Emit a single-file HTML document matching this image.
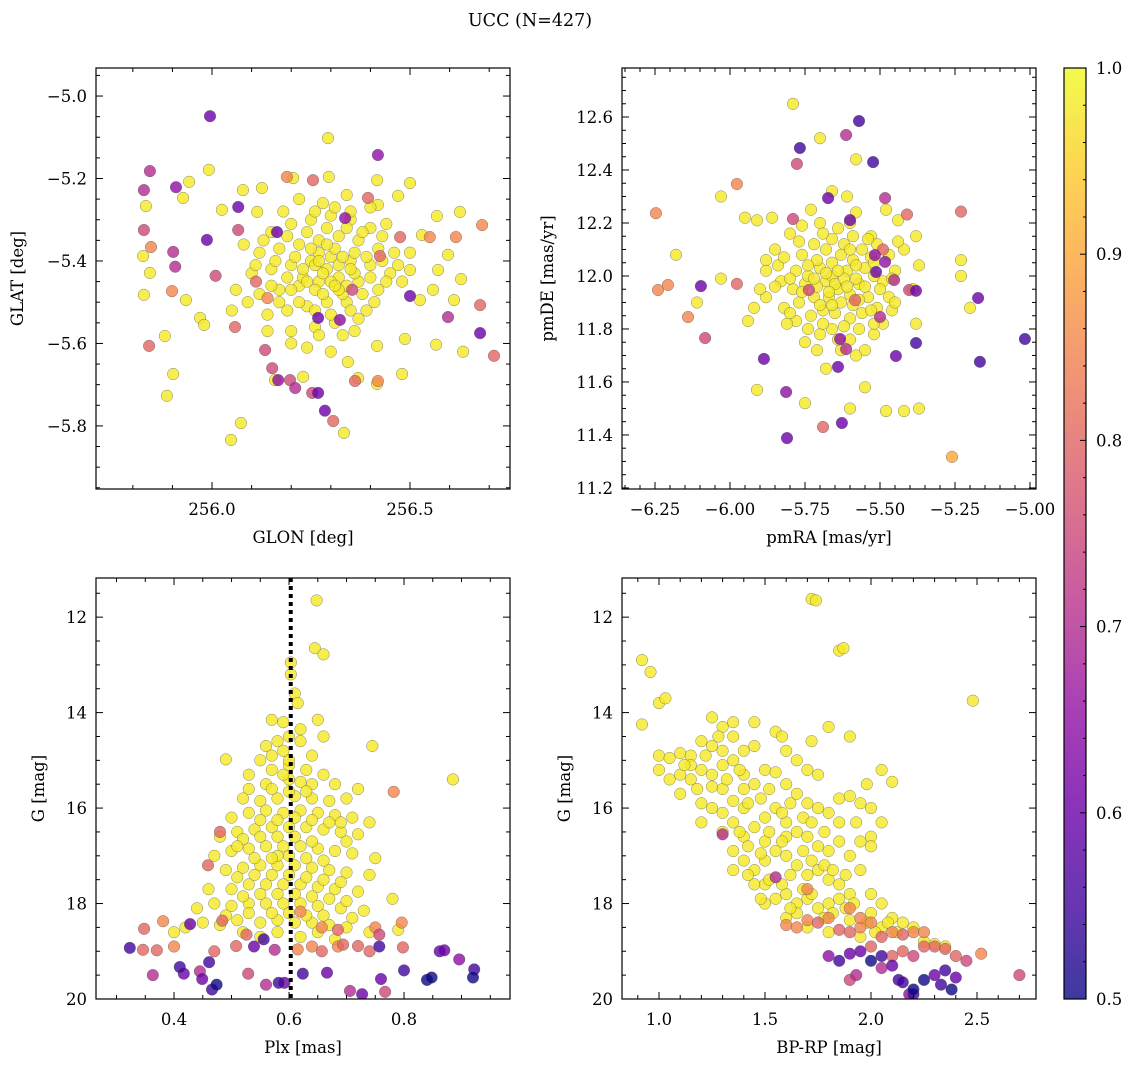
<!DOCTYPE html>
<html><head><meta charset="utf-8">
<style>
html,body{margin:0;padding:0;background:#fff;}
svg{display:block;font-family:"DejaVu Serif","Liberation Serif",serif;}
</style></head>
<body>
<svg id="fig" width="1136" height="1067" viewBox="0 0 1136 1067" xmlns="http://www.w3.org/2000/svg">
<defs>
<linearGradient id="plasma" x1="0" y1="1" x2="0" y2="0">
<stop offset="0" stop-color="#0d0887"/><stop offset="0.1" stop-color="#41049d"/><stop offset="0.2" stop-color="#6a00a8"/><stop offset="0.3" stop-color="#8f0da4"/><stop offset="0.4" stop-color="#b12a90"/><stop offset="0.5" stop-color="#cc4778"/><stop offset="0.6" stop-color="#e16462"/><stop offset="0.7" stop-color="#f2844b"/><stop offset="0.8" stop-color="#fca636"/><stop offset="0.9" stop-color="#fcce25"/><stop offset="1" stop-color="#f0f921"/>
</linearGradient>
</defs>
<text x="530" y="26" font-size="17.5" text-anchor="middle">UCC (N=427)</text>
</svg>
<script>
// ---- Panel 1: GLON vs GLAT ----
const p1Core = [[256.293,-5.102],[255.833,-5.267],[255.826,-5.388],[255.843,-5.429],[255.828,-5.482],[255.881,-5.582],[255.902,-5.674],[255.886,-5.727],[255.992,-5.179],[255.942,-5.208],[255.927,-5.247],[256.025,-5.276],[255.934,-5.495],[255.97,-5.538],[255.98,-5.555],[256.048,-5.834],[256.073,-5.793],[256.159,-5.689],[256.23,-5.681],[256.333,-5.817],[256.343,-5.645],[256.369,-5.684],[256.417,-5.698],[256.48,-5.674],[256.417,-5.606],[256.487,-5.589],[256.566,-5.603],[256.634,-5.62],[256.611,-5.495],[256.629,-5.444],[256.558,-5.47],[256.596,-5.385],[256.571,-5.422],[256.5,-5.422],[256.53,-5.337],[256.568,-5.291],[256.626,-5.281],[256.417,-5.204],[256.5,-5.211],[256.47,-5.242],[256.419,-5.264],[256.205,-5.199],[256.295,-5.196],[256.126,-5.223],[256.078,-5.228],[256.114,-5.281],[256.525,-5.495],
[256.15,-5.33],[256.2,-5.31],[256.25,-5.30],[256.3,-5.29],[256.35,-5.30],[256.4,-5.32],[256.12,-5.38],[256.17,-5.37],[256.22,-5.36],[256.27,-5.35],[256.32,-5.34],[256.37,-5.35],[256.42,-5.37],[256.46,-5.38],[256.1,-5.43],[256.15,-5.42],[256.2,-5.41],[256.25,-5.40],[256.3,-5.39],[256.35,-5.40],[256.4,-5.41],[256.45,-5.43],[256.12,-5.48],[256.17,-5.47],[256.22,-5.46],[256.27,-5.45],[256.32,-5.44],[256.37,-5.45],[256.42,-5.47],[256.14,-5.53],[256.19,-5.52],[256.24,-5.51],[256.29,-5.50],[256.34,-5.50],[256.39,-5.52],[256.2,-5.57],[256.26,-5.56],[256.31,-5.55],[256.36,-5.57],[256.24,-5.61],[256.3,-5.62],[256.08,-5.36],[256.06,-5.47],[256.05,-5.52],[256.34,-5.24],[256.28,-5.26],[256.22,-5.25],[256.18,-5.28],[256.4,-5.27],[256.44,-5.31],[256.48,-5.45],[256.29,-5.42],[256.26,-5.47],[256.33,-5.48],[256.23,-5.44],[256.31,-5.37],[256.36,-5.43],[256.19,-5.44],[256.27,-5.38]];
const p1Dense = [[256.28,-5.43],[256.3,-5.45],[256.32,-5.41],[256.34,-5.46],[256.26,-5.41],[256.24,-5.45],[256.28,-5.48],[256.32,-5.47],[256.36,-5.38],[256.33,-5.39],[256.29,-5.36],[256.25,-5.37],[256.21,-5.39],[256.2,-5.47],[256.22,-5.5],[256.26,-5.52],[256.3,-5.53],[256.35,-5.52],[256.38,-5.48],[256.4,-5.44],[256.39,-5.39],[256.38,-5.33],[256.34,-5.32],[256.29,-5.32],[256.24,-5.33],[256.19,-5.34],[256.16,-5.4],[256.15,-5.46],[256.17,-5.5],[256.27,-5.58],[256.33,-5.58],[256.41,-5.5],[256.43,-5.4],[256.43,-5.34],[256.13,-5.35],[256.09,-5.5],[256.2,-5.6],[256.35,-5.28],[256.31,-5.27],[256.26,-5.28],[256.44,-5.45],[256.47,-5.41],[256.5,-5.38],[256.11,-5.41],[256.14,-5.57],[256.37,-5.54],[256.31,-5.46],[256.27,-5.4],[256.23,-5.42],[256.35,-5.42]];
const p1Other = [[255.995,-5.049,0.6],[255.843,-5.182,0.7],[255.828,-5.228,0.7],[255.909,-5.221,0.65],[255.828,-5.325,0.75],[255.846,-5.366,0.85],[255.902,-5.378,0.7],[255.907,-5.414,0.7],[255.899,-5.473,0.85],[255.841,-5.606,0.8],[256.066,-5.269,0.6],[255.987,-5.349,0.6],[256.009,-5.436,0.75],[256.066,-5.325,0.75],[256.058,-5.56,0.8],[256.134,-5.616,0.75],[256.152,-5.66,0.75],[256.167,-5.689,0.65],[256.197,-5.689,0.75],[256.21,-5.708,0.7],[256.253,-5.72,0.75],[256.268,-5.72,0.6],[256.285,-5.763,0.6],[256.306,-5.788,0.8],[256.361,-5.691,0.8],[256.268,-5.538,0.6],[256.323,-5.543,0.65],[256.354,-5.47,0.75],[256.424,-5.388,0.8],[256.336,-5.296,0.65],[256.419,-5.143,0.65],[256.394,-5.247,0.8],[256.255,-5.204,0.8],[256.189,-5.196,0.85],[256.164,-5.33,0.6],[256.475,-5.342,0.8],[256.5,-5.485,0.6],[256.596,-5.536,0.7],[256.677,-5.575,0.6],[256.677,-5.507,0.8],[256.712,-5.63,0.8],[256.419,-5.691,0.85],[256.111,-5.45,0.8],[256.14,-5.49,0.85],[256.55,-5.342,0.85],[256.616,-5.342,0.85],[256.682,-5.313,0.85]];
const p1XTicks = [256.0,256.5];
const p1YTicks = [-5.8,-5.6,-5.4,-5.2,-5.0];

// ---- Panel 2: pmRA vs pmDE ----
const p2Core = [[-5.79,12.65],[-5.70,12.52],[-5.58,12.44],[-5.66,12.32],[-5.61,12.30],[-5.73,12.25],[-6.03,12.30],[-5.95,12.22],[-5.91,12.21],[-5.86,12.22],[-6.18,12.08],[-6.03,11.99],[-6.11,11.90],[-5.92,11.88],[-5.94,11.83],[-5.91,11.57],[-5.75,11.52],[-5.68,11.65],[-5.60,11.50],[-5.55,11.58],[-5.48,11.49],[-5.42,11.49],[-5.37,11.50],[-5.38,11.82],[-5.39,11.95],[-5.37,12.04],[-5.42,12.10],[-5.38,12.15],[-5.44,12.21],[-5.48,12.25],[-5.23,12.06],[-5.23,12.00],[-5.20,11.88],[-5.53,12.15],[-5.60,12.20],[-5.80,12.16],[-5.85,12.10],[-5.88,12.02],[-5.83,11.98],[-5.88,11.92],[-5.82,11.88],[-5.78,11.83],[-5.74,11.80],[-5.70,11.78],[-5.66,11.80],[-5.60,11.76],[-5.55,11.72],[-5.52,11.78],[-5.49,11.82],[-5.51,11.88],[-5.47,11.92],[-5.49,11.98],[-5.45,12.02],[-5.47,12.08],[-5.51,12.12],[-5.56,12.10],[-5.62,12.12],[-5.66,12.14],[-5.72,12.12],[-5.76,12.08],[-5.78,12.02],[-5.75,11.97],[-5.72,11.92],[-5.69,11.87],[-5.65,11.86],[-5.60,11.84],[-5.56,11.86],[-5.54,11.92],[-5.57,11.97],[-5.61,12.02],[-5.66,12.05],[-5.70,12.03],[-5.68,11.98],[-5.64,11.95],[-5.60,11.93],[-5.63,11.90],[-5.67,11.92],[-5.71,11.96],[-5.74,12.00],[-5.59,12.06],[-5.55,12.03],[-5.52,12.00],[-5.58,11.99],[-5.66,12.00],[-5.70,11.89],[-5.77,11.90],[-5.79,11.95],[-5.63,11.72],[-5.57,11.80],[-5.84,12.04],[-5.64,12.18],[-5.70,12.20],[-5.75,11.75],[-5.81,11.82]];
const p2Dense = [[-5.65,11.97],[-5.62,11.99],[-5.68,12.01],[-5.71,12.06],[-5.63,12.08],[-5.58,12.04],[-5.55,11.96],[-5.59,11.89],[-5.66,11.89],[-5.73,11.85],[-5.76,11.94],[-5.74,12.04],[-5.68,12.1],[-5.6,12.1],[-5.53,12.07],[-5.5,11.95],[-5.53,11.87],[-5.62,11.81],[-5.69,11.82],[-5.8,11.99],[-5.82,12.07],[-5.77,12.13],[-5.69,12.16],[-5.59,12.15],[-5.54,12.14],[-5.46,11.99],[-5.46,11.87],[-5.64,12.02],[-5.72,11.99],[-5.61,11.96],[-5.67,11.94],[-5.57,11.91],[-5.52,12.05],[-5.85,11.96],[-5.88,12.06],[-5.9,11.95],[-5.64,11.76],[-5.58,11.7],[-5.52,11.82],[-5.8,11.86],[-5.76,12.19],[-5.58,12.24],[-5.44,12.13],[-5.45,11.9],[-5.71,11.72]];
const p2Other = [[-6.247,12.237,0.85],[-6.24,11.947,0.85],[-6.207,11.966,0.85],[-6.14,11.845,0.85],[-6.097,11.962,0.6],[-6.083,11.766,0.75],[-5.977,12.347,0.85],[-5.977,11.97,0.8],[-5.887,11.687,0.6],[-5.813,11.562,0.65],[-5.81,11.388,0.6],[-5.777,12.423,0.75],[-5.767,12.483,0.55],[-5.79,12.215,0.75],[-5.673,12.294,0.6],[-5.69,11.43,0.8],[-5.633,11.762,0.65],[-5.64,11.657,0.6],[-5.627,11.445,0.6],[-5.613,12.532,0.7],[-5.57,12.585,0.55],[-5.523,12.43,0.55],[-5.6,12.211,0.6],[-5.483,12.294,0.7],[-5.517,12.079,0.65],[-5.483,12.053,0.65],[-5.513,12.015,0.6],[-5.583,11.909,0.8],[-5.5,11.845,0.7],[-5.613,11.724,0.7],[-5.447,11.698,0.6],[-5.38,11.747,0.55],[-5.403,11.947,0.75],[-5.41,12.232,0.8],[-5.38,11.944,0.6],[-5.23,12.243,0.8],[-5.26,11.317,0.9],[-5.173,11.917,0.6],[-5.167,11.676,0.55],[-5.017,11.762,0.55],[-5.453,11.985,0.7],[-5.737,11.947,0.75],[-5.49,12.1,0.8]];
const p2XTicks = [-6.25,-6.00,-5.75,-5.50,-5.25,-5.00];
const p2YTicks = [11.2,11.4,11.6,11.8,12.0,12.2,12.4,12.6];

// ---- Panel 3: Plx vs G ----
const p3Core = [[0.648,11.65],[0.645,12.65],[0.66,12.78],[0.603,12.95],[0.603,13.2],[0.61,13.6],[0.615,13.8],[0.59,14.2],[0.57,14.15],[0.65,14.15],[0.745,14.7],[0.885,15.4],[0.49,14.98],[0.56,14.7],[0.6,14.5],[0.62,14.6],[0.58,14.6],[0.55,15.0],[0.64,14.9],[0.53,15.3],[0.57,15.2],[0.6,15.1],[0.63,15.2],[0.66,15.3],[0.53,15.6],[0.56,15.5],[0.6,15.4],[0.64,15.5],[0.68,15.5],[0.52,15.8],[0.55,15.85],[0.58,15.8],[0.61,15.75],[0.64,15.8],[0.67,15.85],[0.7,15.8],[0.72,15.6],[0.5,16.2],[0.53,16.1],[0.56,16.05],[0.59,16.1],[0.62,16.05],[0.65,16.1],[0.68,16.15],[0.71,16.2],[0.74,16.3],[0.48,16.6],[0.51,16.5],[0.54,16.45],[0.57,16.4],[0.6,16.4],[0.63,16.4],[0.66,16.45],[0.69,16.5],[0.72,16.55],[0.47,17.0],[0.5,16.9],[0.53,16.85],[0.56,16.8],[0.59,16.8],[0.62,16.8],[0.65,16.85],[0.68,16.9],[0.71,16.95],[0.75,17.05],[0.49,17.3],[0.52,17.25],[0.55,17.2],[0.58,17.2],[0.61,17.2],[0.64,17.25],[0.67,17.3],[0.7,17.35],[0.74,17.4],[0.78,17.9],[0.46,17.7],[0.5,17.7],[0.53,17.6],[0.56,17.6],[0.59,17.6],[0.62,17.6],[0.65,17.65],[0.68,17.7],[0.72,17.75],[0.44,18.1],[0.47,18.0],[0.5,18.05],[0.53,18.0],[0.56,18.0],[0.59,18.0],[0.62,18.0],[0.65,18.05],[0.69,18.1],[0.73,18.15],[0.42,18.5],[0.45,18.4],[0.48,18.45],[0.51,18.35],[0.55,18.4],[0.58,18.35],[0.61,18.4],[0.64,18.4],[0.67,18.45],[0.7,18.5],[0.74,18.6],[0.79,18.55],[0.4,18.6],[0.6,15.0],[0.64,16.7],[0.58,17.0],[0.55,18.7],[0.62,18.7],[0.68,18.75]];
const p3Dense = [[0.59,15.3],[0.62,15.45],[0.57,15.6],[0.6,15.65],[0.63,15.65],[0.55,16.25],[0.58,16.25],[0.61,16.2],[0.64,16.25],[0.67,16.3],[0.52,16.65],[0.55,16.6],[0.58,16.6],[0.61,16.6],[0.7,16.7],[0.54,17.05],[0.57,17.05],[0.6,17.0],[0.63,17.05],[0.66,17.1],[0.51,17.45],[0.54,17.4],[0.57,17.4],[0.6,17.4],[0.63,17.45],[0.66,17.5],[0.69,17.55],[0.52,17.85],[0.55,17.8],[0.58,17.8],[0.61,17.8],[0.64,17.85],[0.67,17.9],[0.7,17.95],[0.49,18.25],[0.53,18.2],[0.57,18.2],[0.6,18.2],[0.63,18.25],[0.66,18.25],[0.71,18.3],[0.52,18.6],[0.58,18.6],[0.65,18.6],[0.59,14.8],[0.62,14.35],[0.66,14.5],[0.57,14.9],[0.51,16.8],[0.69,16.3]];
const p3Other = [[0.323,18.93,0.55],[0.346,18.97,0.8],[0.348,18.53,0.8],[0.363,19.5,0.7],[0.37,18.98,0.8],[0.381,18.37,0.85],[0.4,18.9,0.85],[0.41,19.33,0.55],[0.417,19.47,0.6],[0.428,18.43,0.6],[0.445,19.42,0.7],[0.449,19.58,0.6],[0.461,19.23,0.55],[0.466,19.8,0.55],[0.47,19.0,0.8],[0.474,19.7,0.5],[0.459,17.2,0.8],[0.484,18.36,0.8],[0.48,16.5,0.8],[0.508,18.89,0.8],[0.529,19.47,0.75],[0.526,18.65,0.8],[0.539,18.9,0.6],[0.556,18.75,0.55],[0.56,19.7,0.7],[0.575,18.97,0.7],[0.582,19.66,0.55],[0.592,19.66,0.6],[0.615,18.96,0.85],[0.624,19.47,0.55],[0.64,18.9,0.85],[0.657,19.0,0.8],[0.666,19.45,0.6],[0.685,18.9,0.85],[0.694,18.86,0.8],[0.706,19.83,0.7],[0.72,18.89,0.8],[0.727,19.9,0.6],[0.74,19.0,0.8],[0.75,18.5,0.85],[0.757,18.9,0.55],[0.757,18.65,0.75],[0.76,19.58,0.6],[0.767,19.85,0.75],[0.782,15.66,0.85],[0.796,18.4,0.85],[0.8,19.4,0.55],[0.798,18.92,0.8],[0.862,19.0,0.6],[0.87,18.98,0.6],[0.84,19.6,0.5],[0.848,19.55,0.5],[0.896,19.17,0.65],[0.922,19.38,0.55],[0.92,19.55,0.5],[0.685,18.55,0.8],[0.657,18.5,0.85],[0.62,18.17,0.85]];
const p3XTicks = [0.4,0.6,0.8];
const p3YTicks = [12,14,16,18,20];
const p3VLine = [0.603];

// ---- Panel 4: BP-RP vs G ----
const p4Core = [[1.72,11.62],[1.74,11.65],[1.85,12.7],[1.87,12.65],[0.92,12.9],[0.96,13.15],[1.0,13.8],[1.03,13.7],[0.92,14.25],[2.48,13.75],[1.25,14.1],[1.3,14.3],[1.35,14.2],[1.45,14.2],[1.72,14.6],[1.8,14.3],[1.9,14.5],[1.0,14.9],[1.05,14.95],[1.1,14.85],[1.15,14.9],[1.0,15.2],[1.2,14.6],[1.22,14.9],[1.28,14.5],[1.1,15.3],[1.15,15.4],[1.2,15.2],[1.25,15.3],[1.3,15.1],[1.35,15.0],[1.4,14.8],[1.45,14.7],[1.55,14.4],[1.58,14.5],[1.6,14.8],[1.65,15.0],[1.7,15.2],[1.75,15.3],[1.85,15.8],[1.9,15.75],[1.95,15.9],[2.0,16.0],[2.05,16.3],[2.0,16.6],[2.0,16.8],[2.1,15.45],[2.05,15.2],[1.98,15.5],[1.1,15.7],[1.2,15.9],[1.25,16.0],[1.3,16.1],[1.35,15.85],[1.4,15.6],[1.45,15.5],[1.5,15.2],[1.55,15.25],[1.6,15.5],[1.65,15.7],[1.7,15.9],[1.75,16.0],[1.8,16.1],[1.2,16.3],[1.3,16.5],[1.35,16.3],[1.4,16.6],[1.45,16.4],[1.5,16.2],[1.55,16.0],[1.6,16.3],[1.65,16.5],[1.7,16.6],[1.75,16.8],[1.8,16.9],[1.85,16.7],[1.9,17.0],[1.95,17.3],[2.0,17.8],[1.35,16.9],[1.4,17.1],[1.45,17.3],[1.5,17.1],[1.55,16.9],[1.6,17.0],[1.65,17.2],[1.7,17.4],[1.75,17.3],[1.8,17.5],[1.85,17.6],[1.9,17.8],[1.35,17.3],[1.45,17.6],[1.5,17.6],[1.55,17.9],[1.6,17.8],[1.65,18.0],[1.7,17.9],[1.75,18.1],[1.8,18.0],[1.85,17.9],[1.5,18.0],[1.6,18.3],[1.65,18.2],[1.7,18.5],[1.8,18.6],[1.9,18.35],[2.0,18.2],[2.05,18.0],[2.1,18.3],[2.15,18.4],[2.2,18.5],[2.25,18.8],[2.3,18.85],[2.35,18.9],[1.95,18.7],[2.05,18.5],[1.4,16.0],[1.5,16.7],[1.6,16.6],[1.3,15.6],[1.4,15.3]];
const p4Dense = [[1.15,15.1],[1.18,15.6],[1.25,15.55],[1.32,15.4],[1.38,15.2],[1.42,15.9],[1.48,15.8],[1.52,15.6],[1.58,16.1],[1.62,15.9],[1.68,16.2],[1.72,16.3],[1.78,16.5],[1.38,16.5],[1.42,16.8],[1.48,16.95],[1.52,16.5],[1.58,16.7],[1.62,17.4],[1.68,16.9],[1.72,17.1],[1.78,17.2],[1.82,17.3],[1.88,17.4],[1.42,17.4],[1.48,17.9],[1.52,17.5],[1.58,17.6],[1.62,18.1],[1.68,17.7],[1.72,17.8],[1.78,18.3],[1.82,18.2],[1.88,18.1],[1.92,18.0],[1.98,18.4],[2.02,18.6],[2.08,18.4],[2.12,18.6],[1.25,14.7],[1.3,14.8],[1.35,14.5],[1.12,15.1],[1.05,15.4],[1.93,16.3],[1.95,16.7],[1.85,16.3]];
const p4Other = [[1.60,18.45,0.85],[1.65,18.5,0.85],[1.7,18.35,0.85],[1.75,18.4,0.8],[1.8,18.3,0.85],[1.85,18.55,0.8],[1.9,18.6,0.8],[1.95,18.5,0.85],[2.0,18.4,0.85],[2.05,18.7,0.8],[2.1,18.6,0.85],[2.15,18.65,0.8],[2.2,18.6,0.85],[2.25,18.6,0.85],[2.3,18.9,0.8],[2.35,18.95,0.8],[2.4,19.1,0.8],[2.45,19.2,0.75],[2.52,19.05,0.85],[2.7,19.5,0.75],[1.9,18.1,0.85],[1.95,18.3,0.85],[2.0,18.9,0.8],[2.1,19.1,0.8],[2.15,19.0,0.8],[2.2,19.1,0.75],[2.25,18.9,0.8],[1.3,16.55,0.7],[1.55,17.45,0.7],[1.7,17.7,0.85],
[1.85,19.2,0.55],[1.9,19.05,0.6],[1.95,19.0,0.6],[2.0,19.2,0.5],[2.05,19.1,0.55],[2.1,19.3,0.6],[2.13,19.6,0.55],[2.15,19.65,0.55],[2.2,19.8,0.5],[2.25,19.6,0.5],[2.2,19.9,0.55],[2.3,19.5,0.6],[2.33,19.7,0.55],[2.35,19.4,0.55],[2.38,19.8,0.5],[2.4,19.55,0.6],[2.18,19.9,0.65],[1.93,19.5,0.7],[1.9,19.6,0.75],[1.8,19.1,0.65],[2.05,19.35,0.7]];
const p4XTicks = [1.0,1.5,2.0,2.5];
const p4YTicks = [12,14,16,18,20];

const cbTicks = [0.5,0.6,0.7,0.8,0.9,1.0];
const corePValue = 0.98;

const NS = 'http://www.w3.org/2000/svg';
const svg = document.getElementById('fig');
function mk(tag, attrs, parent){
  const e = document.createElementNS(NS, tag);
  for (const k in attrs) e.setAttribute(k, attrs[k]);
  (parent||svg).appendChild(e);
  return e;
}
const stops = [[0,[13,8,135]],[0.1,[65,4,157]],[0.2,[106,0,168]],[0.3,[143,13,164]],[0.4,[177,42,144]],[0.5,[204,71,120]],[0.6,[225,100,98]],[0.7,[242,132,75]],[0.8,[252,166,54]],[0.9,[252,206,37]],[1,[240,249,33]]];
function plasma(p){
  let t = Math.max(0, Math.min(1, (p-0.5)/0.5));
  for (let i=1;i<stops.length;i++){
    if (t<=stops[i][0]){
      const a=stops[i-1], b=stops[i], f=(t-a[0])/(b[0]-a[0]);
      const c=a[1].map((v,j)=>Math.round(v+(b[1][j]-v)*f));
      return 'rgb('+c.join(',')+')';
    }
  }
  return 'rgb(240,249,33)';
}
function fmt(v, d){ return (v<0?'\u2212':'') + Math.abs(v).toFixed(d); }

function panel(cfg){
  const {name,px0,px1,py0,py1,xmin,xmax,ymin,ymax,invY,xTicks,yTicks,xMinor,yMinor,xd,yd,xlabel,ylabel,core,other,ylabelX} = cfg;
  const g = mk('g', {});
  
  
  const sx = v => px0 + (v-xmin)/(xmax-xmin)*(px1-px0);
  const sy = v => invY ? py0 + (v-ymin)/(ymax-ymin)*(py1-py0) : py1 - (v-ymin)/(ymax-ymin)*(py1-py0);
  const clipId = 'clip-'+name;
  const cp = mk('clipPath', {id: clipId}, g);
  mk('rect', {x:px0, y:py0, width:px1-px0, height:py1-py0}, cp);
  const pts = mk('g', {'clip-path':'url(#'+clipId+')'}, g);
  
  
  const all = core.map(d=>[d[0],d[1],corePValue]).concat(other.slice().sort((a,b)=>b[2]-a[2]));
  all.forEach(d=>{
    const c = mk('circle', {cx:sx(d[0]).toFixed(1), cy:sy(d[1]).toFixed(1), r:5.8, fill:plasma(d[2]), 'fill-opacity':0.8, stroke:'#555', 'stroke-width':0.5, 'stroke-opacity':0.7}, pts);
    
    
  });
  if (cfg.vline){
    cfg.vline.forEach(v=>{
      const l = mk('line', {x1:sx(v), x2:sx(v), y1:py0, y2:py1, stroke:'#000', 'stroke-width':4, 'stroke-dasharray':'4 4'}, g);
      
      
    });
  }
  const tg = mk('g', {stroke:'#000', 'stroke-width':1}, g);
  const xlo = Math.min(xmin,xmax), xhi = Math.max(xmin,xmax);
  for (let v = Math.ceil(xlo/xMinor-1e-6)*xMinor; v<=xhi+1e-9; v+=xMinor){
    const x = sx(v); const isMaj = xTicks.some(t=>Math.abs(t-v)<1e-6); const L = isMaj?7:4;
    mk('line',{x1:x,x2:x,y1:py1,y2:py1-L},tg); mk('line',{x1:x,x2:x,y1:py0,y2:py0+L},tg);
  }
  const ylo = Math.min(ymin,ymax), yhi = Math.max(ymin,ymax);
  for (let v = Math.ceil(ylo/yMinor-1e-6)*yMinor; v<=yhi+1e-9; v+=yMinor){
    const y = sy(v); const isMaj = yTicks.some(t=>Math.abs(t-v)<1e-6); const L = isMaj?7:4;
    mk('line',{x1:px0,x2:px0+L,y1:y,y2:y},tg); mk('line',{x1:px1,x2:px1-L,y1:y,y2:y},tg);
  }
  xTicks.forEach(v=>{
    const t = mk('text',{x:sx(v), y:py1+26, 'font-size':16.5, 'text-anchor':'middle'}, g);
    t.textContent = fmt(v, xd);
    
    
  });
  yTicks.forEach(v=>{
    const t = mk('text',{x:px0-9, y:sy(v)+6, 'font-size':16.5, 'text-anchor':'end'}, g);
    t.textContent = fmt(v, yd);
    
    
  });
  mk('rect',{x:px0, y:py0, width:px1-px0, height:py1-py0, fill:'none', stroke:'#000', 'stroke-width':1.2}, g);
  const xl = mk('text',{x:(px0+px1)/2, y:py1+54, 'font-size':16.5, 'text-anchor':'middle'}, g);
  xl.textContent = xlabel;
  
  
  const cy = (py0+py1)/2;
  const yl = mk('text',{x:ylabelX, y:cy, 'font-size':16.5, 'text-anchor':'middle', transform:'rotate(-90 '+ylabelX+' '+cy+')'}, g);
  yl.textContent = ylabel;
  
  
}

panel({name:'glon-glat-panel', px0:96, px1:510, py0:68, py1:489, xmin:255.707, xmax:256.7525, ymin:-5.953, ymax:-4.932, invY:false, xTicks:p1XTicks, yTicks:p1YTicks, xMinor:0.1, yMinor:0.05, xd:1, yd:1, xlabel:'GLON [deg]', ylabel:'GLAT [deg]', core:p1Core.concat(p1Dense), other:p1Other, ylabelX:23});
panel({name:'pm-panel', px0:622, px1:1036, py0:68, py1:489, xmin:-6.36, xmax:-4.98, ymin:11.196, ymax:12.785, invY:false, xTicks:p2XTicks, yTicks:p2YTicks, xMinor:0.05, yMinor:0.05, xd:2, yd:1, xlabel:'pmRA [mas/yr]', ylabel:'pmDE [mas/yr]', core:p2Core.concat(p2Dense), other:p2Other, ylabelX:553});
panel({name:'plx-g-panel', px0:96, px1:510, py0:578, py1:999, xmin:0.2643, xmax:0.9843, ymin:11.18, ymax:20.0, invY:true, xTicks:p3XTicks, yTicks:p3YTicks, xMinor:0.05, yMinor:0.5, xd:1, yd:0, xlabel:'Plx [mas]', ylabel:'G [mag]', core:p3Core.concat(p3Dense), other:p3Other, ylabelX:44, vline:p3VLine});
panel({name:'cmd-panel', px0:622, px1:1036, py0:578, py1:999, xmin:0.8255, xmax:2.7783, ymin:11.18, ymax:20.0, invY:true, xTicks:p4XTicks, yTicks:p4YTicks, xMinor:0.1, yMinor:0.5, xd:1, yd:0, xlabel:'BP-RP [mag]', ylabel:'G [mag]', core:p4Core.concat(p4Dense), other:p4Other, ylabelX:570});

const cb = mk('g', {});


const cbx0=1064, cbx1=1086, cby0=68, cby1=999;
mk('rect',{x:cbx0,y:cby0,width:cbx1-cbx0,height:cby1-cby0,fill:'url(#plasma)','fill-opacity':0.8},cb);
mk('rect',{x:cbx0,y:cby0,width:cbx1-cbx0,height:cby1-cby0,fill:'none',stroke:'#000','stroke-width':1.2},cb);
const cbs = v => cby1 - (v-0.5)/0.5*(cby1-cby0);
for (let v=0.5; v<=1.0001; v+=0.02){
  const isMaj = cbTicks.some(t=>Math.abs(t-v)<1e-6);
  mk('line',{x1:cbx1,x2:cbx1-(isMaj?6:3),y1:cbs(v),y2:cbs(v),stroke:'#000','stroke-width':1},cb);
}
cbTicks.forEach(v=>{
  const t = mk('text',{x:1096, y:cbs(v)+6, 'font-size':16.5}, cb);
  t.textContent = v.toFixed(1);
  
  
});
</script>
</body></html>
